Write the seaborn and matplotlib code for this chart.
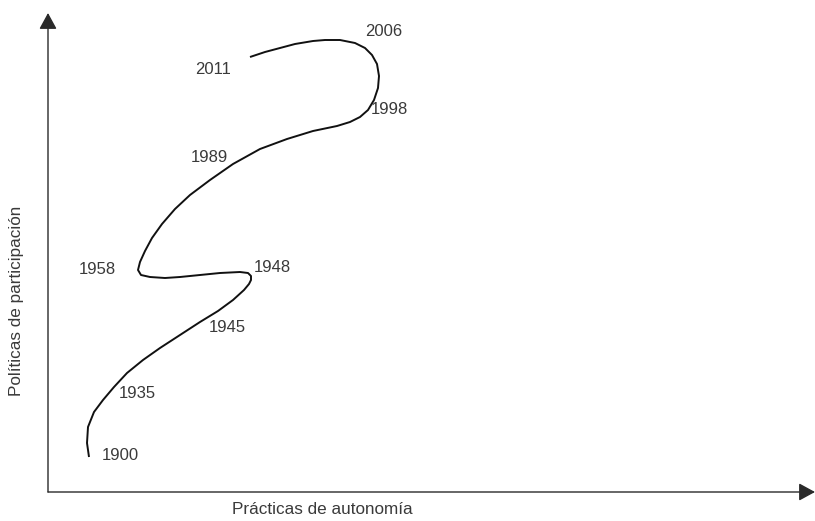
import matplotlib

matplotlib.use('Agg')
import matplotlib.pyplot as plt
import seaborn as sns
import pandas as pd

sns.set_style('white')
plt.rcParams['font.family'] = ['Liberation Sans', 'DejaVu Sans']

# path of the curve (autonomy on x, participation on y), traced from 1900 to 2011
curve_x = [41, 39, 40, 46, 55, 66, 79, 95, 112, 132, 152, 170, 185, 196, 201, 203, 203, 200, 192,
           172, 152, 132, 117, 102, 93, 90, 92, 97, 104, 114, 127, 142, 162, 185, 212, 239,
           265, 289, 302, 312, 320, 326, 330, 331, 329, 324, 317, 307, 292, 277, 265, 247,
           232, 217, 202]
curve_y = [35, 49, 65, 80, 92, 105, 119, 132, 144, 157, 170, 181, 192, 202, 208, 212, 216, 219, 220,
           219, 217, 215, 214, 215, 217, 222, 230, 241, 254, 268, 283, 297, 312, 328, 343, 353,
           361, 366, 370, 375, 382, 392, 404, 416, 428, 437, 444, 449, 452, 452, 451, 448,
           444, 440, 435]

years = ['1900', '1935', '1945', '1948', '1958', '1989', '1998', '2011', '2006']
year_x = [72, 89, 179, 224, 49, 161, 341, 165, 336]
year_y = [37, 99, 164, 225, 222, 335, 382, 422, 461]

df = pd.DataFrame({'x': curve_x, 'y': curve_y})

fig = plt.figure(figsize=(8.15, 5.21), dpi=100)
ax = fig.add_axes([0, 0, 1, 1])

line = sns.lineplot(data=df, x='x', y='y', sort=False, estimator=None, color='#111111',
                    linewidth=1.4, ax=ax)
for l in ax.lines:
    l.set_solid_joinstyle('round')
    l.set_solid_capstyle('butt')

for label, lx, ly in zip(years, year_x, year_y):
    ax.text(lx, ly, label, ha='center', va='center', fontsize=12, color='#3a3a3a')

# axes drawn as arrows
arrow = dict(arrowstyle='-|>,head_length=0.55,head_width=0.3', color='#2a2a2a', lw=1,
             mutation_scale=18, shrinkA=0, shrinkB=0)
ax.annotate('', xy=(767, 0), xytext=(0, 0), arrowprops=arrow)
ax.annotate('', xy=(0, 479), xytext=(0, 0), arrowprops=arrow)

ax.text(274, -18, 'Prácticas de autonomía', ha='center', va='center', fontsize=12.3,
        color='#3a3a3a')
ax.text(-31, 191, 'Políticas de participación', ha='center', va='center', fontsize=12.3,
        color='#3a3a3a', rotation=90)

ax.set_xlim(-48, 767)
ax.set_ylim(-29, 492)
ax.set_axis_off()

plt.savefig('out.png', dpi=100)
